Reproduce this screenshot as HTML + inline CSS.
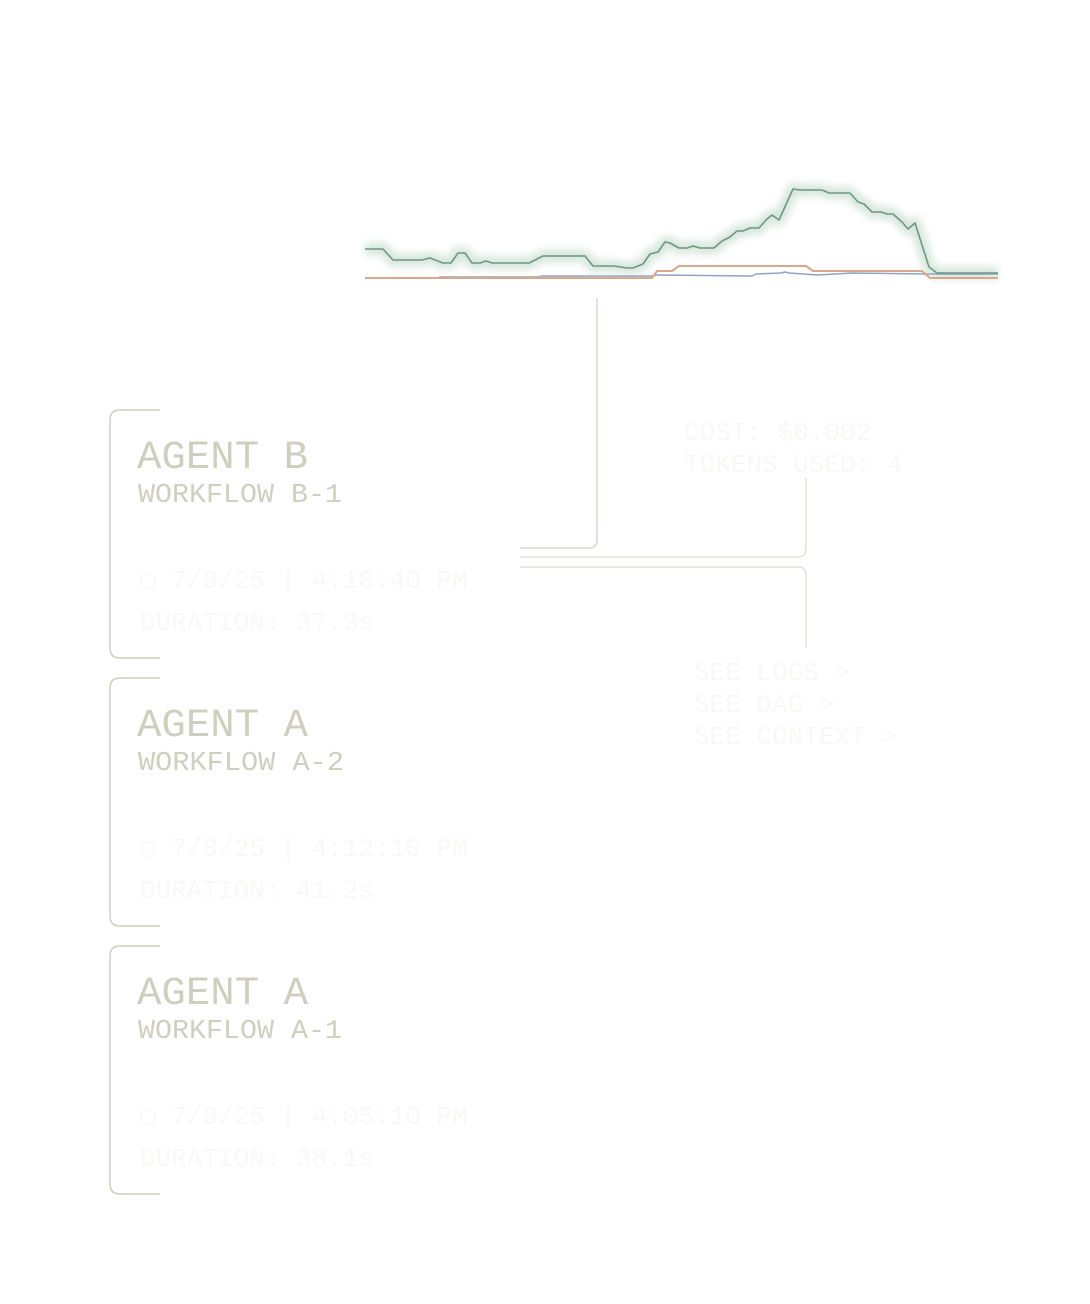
<!DOCTYPE html>
<html><head><meta charset="utf-8"><style>html,body{margin:0;padding:0;background:#fff;}svg{display:block}</style></head>
<body>
<svg width="1090" height="1304" viewBox="0 0 1090 1304" xmlns="http://www.w3.org/2000/svg">
<defs>
<filter id="glow" x="-5%" y="-50%" width="110%" height="200%"><feGaussianBlur stdDeviation="4"/></filter>
</defs>
<g fill="none" stroke-linejoin="round">
<polyline points="365,249 383,249 393,260 422,260 430,258 443,263 451,263 458,253 465,253 472,263 480,263 486,261 492,263 529,263 543,256 585,256 593,266 614,266 627,268 633,268 643,264 650,254 658,252 665,242 670,243 679,248 687,248 693,246 700,248 714,248 722,241 730,237 737,231 743,231 750,228 759,228 766,220 772,215 779,220 793,189 800,190 822,190 829,193 850,193 858,202 864,204 872,212 881,212 887,214 893,214 902,222 908,229 915,223 929,267 937,273 998,273" stroke="#d6e6dc" stroke-width="12" filter="url(#glow)"/>
<polyline points="365,278 998,278" stroke="#e6e6e0" stroke-width="8" filter="url(#glow)"/>
<polyline points="439,277 539,277 541,276 652,276 657,275 752,276 756,274 781,273 785,272 789,273 818,275 852,273 927,274 998,274" stroke="#8ea4c2" stroke-width="1.5"/>
<polyline points="365,278 652,278 657,271 672,271 679,266 806,266 813,271 922,271 930,278 998,278" stroke="#d9a88a" stroke-width="2"/>
<polyline points="365,249 383,249 393,260 422,260 430,258 443,263 451,263 458,253 465,253 472,263 480,263 486,261 492,263 529,263 543,256 585,256 593,266 614,266 627,268 633,268 643,264 650,254 658,252 665,242 670,243 679,248 687,248 693,246 700,248 714,248 722,241 730,237 737,231 743,231 750,228 759,228 766,220 772,215 779,220 793,189 800,190 822,190 829,193 850,193 858,202 864,204 872,212 881,212 887,214 893,214 902,222 908,229 915,223 929,267 937,273 998,273" stroke="#6f9885" stroke-width="1.6"/>
</g>
<g fill="none" stroke="#d8d8cc" stroke-width="1.5">
<path d="M597,298 V540 Q597,548 589,548 H520"/>
<path d="M520,557 H798 Q806,557 806,549 V478" stroke="#e2e2da"/>
<path d="M520,567 H798 Q806,567 806,575 V648" stroke="#e2e2da"/>
</g>
<g fill="none" stroke="#cfcfc0" stroke-width="1.5">
<path d="M160,410 H120 Q110,410 110,420 V648 Q110,658 120,658 H160"/>
<path d="M160,678 H120 Q110,678 110,688 V916 Q110,926 120,926 H160"/>
<path d="M160,946 H120 Q110,946 110,956 V1184 Q110,1194 120,1194 H160"/>
</g>
<g font-family="'Liberation Mono', monospace" fill="#cfcfc0">
<text x="137" y="468" font-size="40" textLength="171" lengthAdjust="spacingAndGlyphs">AGENT B</text>
<text x="138" y="502" font-size="27" textLength="204" lengthAdjust="spacingAndGlyphs">WORKFLOW B-1</text>
<text x="137" y="736" font-size="40" textLength="171" lengthAdjust="spacingAndGlyphs">AGENT A</text>
<text x="138" y="770" font-size="27" textLength="206" lengthAdjust="spacingAndGlyphs">WORKFLOW A-2</text>
<text x="137" y="1004" font-size="40" textLength="171" lengthAdjust="spacingAndGlyphs">AGENT A</text>
<text x="138" y="1038" font-size="27" textLength="204" lengthAdjust="spacingAndGlyphs">WORKFLOW A-1</text>
</g>
<g font-family="'Liberation Mono', monospace" fill="#f8f8f6" font-size="26">
<text x="140" y="588">◯ 7/8/25 | 4:18:40 PM</text>
<text x="140" y="630">DURATION: 37.3s</text>
<text x="140" y="856">◯ 7/8/25 | 4:12:10 PM</text>
<text x="140" y="898">DURATION: 41.2s</text>
<text x="140" y="1124">◯ 7/8/25 | 4:05:10 PM</text>
<text x="140" y="1166">DURATION: 38.1s</text>
<text x="684" y="440">COST: $0.002</text>
<text x="684" y="472">TOKENS USED: 4</text>
<text x="694" y="680">SEE LOGS     &gt;</text>
<text x="694" y="712">SEE DAG      &gt;</text>
<text x="694" y="744">SEE CONTEXT  &gt;</text>
</g>
</svg>
</body></html>
